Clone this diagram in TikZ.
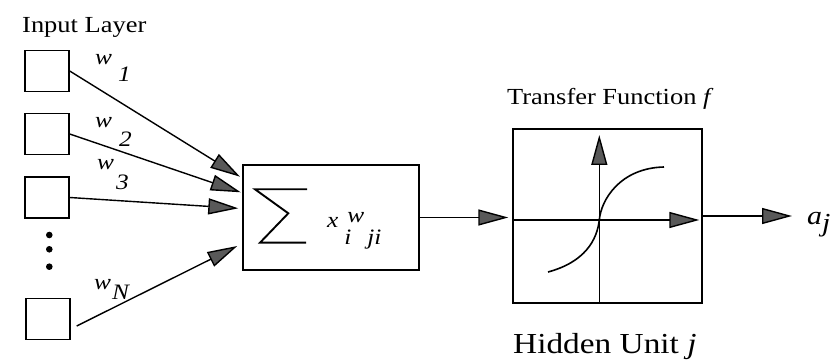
\documentclass[tikz,border=0pt]{standalone}
\usepackage{fontspec}
\setmainfont{Liberation Serif}[FakeStretch=1.15]
\usetikzlibrary{arrows.meta}

\begin{document}
\begin{tikzpicture}[x=1pt,y=-1pt,
  unitbox/.style={draw, line width=1.4pt, minimum width=44pt, minimum height=41pt, inner sep=0pt},
  panel/.style={draw, line width=1.4pt, inner sep=0pt},
  wire/.style={line width=1.4pt},
  head/.style={-{Triangle[length=30pt,width=16pt,fill=black!65]}},
  caption/.style={anchor=base west, inner sep=0pt},
  wlabel/.style={anchor=base west, inner sep=0pt, font=\fontsize{22}{22}\selectfont\itshape},
]
\useasboundingbox (0,0) rectangle (830,363);
\fill[white] (0,0) rectangle (830,363);

% input layer
\node[caption, font=\fontsize{23}{23}\selectfont] (inlabel) at (22,32.7) {Input Layer};
\node[unitbox] (in1) at (47,71) {};
\node[unitbox] (in2) at (47,134) {};
\node[unitbox] (in3) at (47,197.5) {};
\node[unitbox] (inN) at (48,319) {};
\fill (49.3,235) circle (3.3pt);
\fill (49.3,249.3) circle (3.3pt);
\fill (49.3,266.7) circle (3.3pt);

% weights
\node[wlabel] (w1) at (95,65) {w\hspace{6pt}\raisebox{-17pt}{1}};
\node[wlabel] (w2) at (95,128) {w\hspace{7pt}\raisebox{-19pt}{2}};
\node[wlabel] (w3) at (97,170) {w\hspace{2pt}\raisebox{-20pt}{3}};
\node[wlabel] (wN) at (94,290) {w\hspace{1pt}\raisebox{-10pt}{N}};

% summation unit
\node[panel, minimum width=176pt, minimum height=105pt] (sum) at (331,217.5) {};
\draw[line width=1.9pt] (307,189.3) -- (255,189.3) -- (288.3,213.3) -- (260,242.7) -- (306,242.7);
\node[wlabel] (prod) at (327,228)
  {x\hspace{6pt}\raisebox{-17pt}{i}\hspace{-4pt}\raisebox{5pt}{w}\hspace{3pt}\raisebox{-17pt}{ji}};

\coordinate (t1) at (240,176.7);
\coordinate (t2) at (240.7,192.3);
\coordinate (t3) at (238.3,208.3);
\coordinate (tN) at (237.3,246);
\draw[wire,head] (in1.east) -- (t1);
\draw[wire,head] (in2.east) -- (t2);
\draw[wire,head] (in3.east) -- (t3);
\draw[wire,head] ([shift={(6,7)}]inN.east) -- (tN);

% transfer function
\node[caption, font=\fontsize{23}{23}\selectfont] (tflabel) at (507,105) {Transfer Function \textit{f}};
\node[panel, minimum width=189pt, minimum height=174pt] (tf) at (607.5,216) {};
\coordinate (org) at (599.3,220);
\coordinate (xend) at (699.3,220);
\coordinate (yend) at (599.3,135);
\draw[wire,head] (tf.west |- org) -- (xend);
\draw[wire,head] (tf.south -| org) -- (yend);
\draw[line width=1.6pt] (548,272) .. controls (585,262) and (597,240) .. (org)
  .. controls (601,200) and (620,168) .. (664,167);

\draw[wire,head,shorten >=4pt] (sum.east) -- (sum.east -| tf.west);

% output
\node[caption, font=\fontsize{26}{26}\selectfont\itshape] (aj) at (807,225) {a\raisebox{-7pt}{j}};
\draw[wire,head,shorten >=15pt] (tf.east) -- (tf.east -| aj.west);

\node[caption, font=\fontsize{29}{29}\selectfont] (hlabel) at (513,353) {Hidden Unit \textit{j}};
\end{tikzpicture}
\end{document}
